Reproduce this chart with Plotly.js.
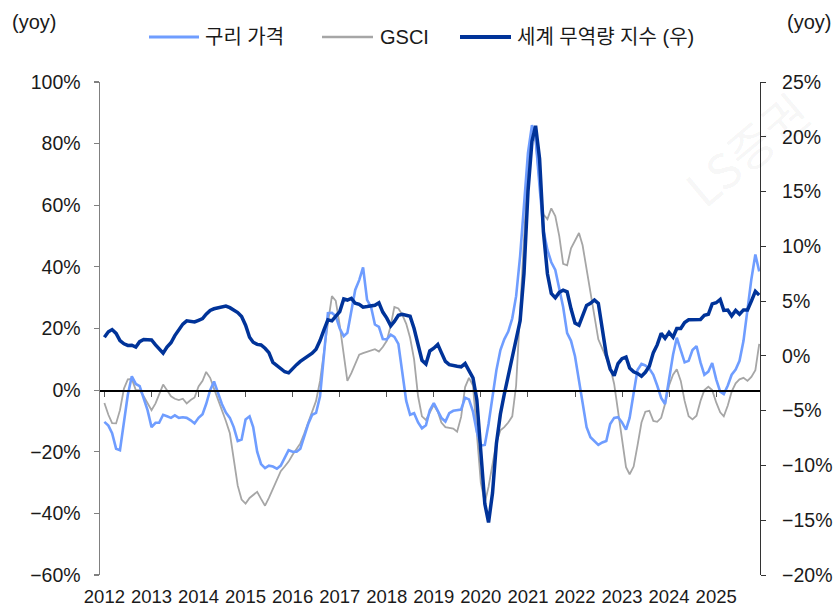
<!DOCTYPE html>
<html><head><meta charset="utf-8">
<script src="https://cdn.plot.ly/plotly-3.0.1.min.js"></script>
<style>html,body{margin:0;padding:0;background:#fff}#chart{width:835px;height:607px}</style>
</head><body><div id="chart"></div>
<script>
// monthly series, 2012-01 .. 2025-12
const startYear = 2012;
const seriesNames = ['구리 가격', 'GSCI', '세계 무역량 지수 (우)'];
const copper = [
 -10.3,-11.5,-14,-19,-19.5,-9.5,-1.5,4.5,2,1.3,-2.5,-6.5,
 -12,-10.6,-10.6,-8,-8.5,-9,-8.2,-9,-8.8,-9,-9.8,-10.8,
 -9,-7.8,-4.5,0,2.8,-1,-4.5,-7.3,-9,-12,-16.5,-16,
 -9.5,-8.5,-12,-20,-24,-25.3,-24.5,-24.8,-25.5,-24.5,-22,-19.5,
 -20,-20,-19,-14.5,-11,-8,-7.4,-2,13,25,25.1,24,
 20,17.5,18.6,25.5,32.5,35.7,39.8,29.3,27,21.3,20.5,16.6,
 16.5,18,17.3,15,5,-3.5,-8,-7.5,-10.5,-12.4,-11.4,-6.5,
 -4.2,-6.5,-9,-10.2,-7.5,-6.7,-6.4,-6.3,-2.5,-3,-7,-13.5,
 -18,-17.8,-11,-2,6.5,13,16.5,19,23.3,30.5,43.5,60,
 77,86,82,66,52,45.5,41.5,39,32.5,27,18.5,16,
 11,3,-4,-12,-15.3,-16.5,-17.8,-17,-16.5,-11,-9,-8.8,
 -10.5,-12.8,-9,-1,6.5,8.5,8,7,5,1.5,-2.5,-4.5,
 4,11.5,17,12.7,9,9.5,13,14.3,9,5,6,8.8,
 3.5,-0.5,-1.3,1.5,5,6.7,9.5,16,27,36,44,38.5
];
const gsci = [
 -4.2,-8,-10.7,-10.8,-6.5,0.5,3.5,3.6,0,0,-2,-4,
 -6.5,-4.3,-1.5,1.8,0,-2,-2.8,-3.2,-2.8,-4.3,-3.2,-2.4,
 1.2,3,5.9,4,0.5,-3,-6,-10,-14,-23,-31,-35.5,
 -36.8,-35,-34,-33,-35.3,-37.5,-35,-32,-29,-26.3,-24.8,-23.2,
 -21,-19.2,-17.3,-14,-10.5,-7,-3.5,3,13,21.7,30.5,29,
 21,11,3,5.5,8.5,11.5,12,12.5,13,13.3,12.5,14,
 16,21,27,26.5,24.5,21.5,17,10,-2,-8.5,-9.7,-7.5,
 -4.8,-7,-10.5,-12,-12.2,-12.5,-13.5,-8.7,1,4,1.5,-15,
 -30,-36.5,-31.4,-24,-17,-13,-12,-10.5,-8.5,1.5,25,49.5,
 73,83.5,80.5,67,57,55.5,59,56.5,50,41,40.5,46,
 48.5,51,47,39.5,31.5,23.5,16.5,13.5,10.5,7.5,2,-7,
 -15.8,-25,-27.3,-24.8,-18,-10.5,-7,-6.7,-10,-10.3,-9,-4.5,
 1.5,5,6.8,3,-3.5,-8.5,-9.5,-8.3,-3.5,0,1.1,0,
 -4,-7.2,-8.5,-5,-0.5,2.2,3.5,4,3,4.3,6.5,15
];
const trade = [
 1.7,2.2,2.4,2.05,1.4,1.1,0.95,0.97,0.8,1.3,1.5,1.5,
 1.45,1.0,0.6,0.25,0.8,1.2,1.85,2.4,2.9,3.2,3.15,3.1,
 3.25,3.4,3.8,4.15,4.3,4.4,4.52,4.55,4.4,4.2,3.95,3.6,
 2.8,1.7,1.25,1.05,1.0,0.7,0.3,-0.6,-0.9,-1.2,-1.45,-1.55,
 -1.14,-0.8,-0.5,-0.25,0,0.25,0.6,1.4,2.4,3.3,3.2,3.6,
 4.05,5.2,5.1,5.25,4.8,4.7,4.45,4.5,4.55,4.62,4.85,4.0,
 3.45,2.75,3.15,3.7,3.8,3.7,3.62,2.5,0.9,-0.4,-0.75,0.45,
 0.7,1.05,0.3,-0.5,-0.8,-0.9,-0.95,-1.0,-0.7,-1.35,-2.0,-4.0,
 -8.5,-13.5,-15.2,-12.5,-8,-5.3,-3.5,-1.8,-0.3,1.3,3.2,7.5,
 15,19.6,21,18,11.3,7.5,5.7,5.3,5.8,6.0,5.85,4.3,
 3.0,2.8,3.7,4.6,4.8,5.1,4.8,2.6,0.1,-1.2,-1.8,-0.7,
 -0.25,-0.1,-1.1,-1.45,-1.6,-1.85,-1.5,-0.95,0.3,1.0,2.05,1.6,
 2.15,1.7,2.5,2.5,3.05,3.3,3.33,3.33,3.33,3.7,3.8,4.75,
 4.85,5.15,4.15,4.18,3.65,4.15,3.8,4.2,4.2,5.0,5.9,5.55
];
const months = copper.map((_, i) => {
  const y = startYear + Math.floor(i / 12), m = i % 12 + 1;
  return y + '-' + String(m).padStart(2, '0') + '-01';
});

const colors = ['#6f9dff', '#a6a6a6', '#003399'];
const FONT = '"Liberation Sans", Arial, "Noto Sans CJK KR", sans-serif';
const KFONT = '"Liberation Sans", "Noto Sans CJK KR", sans-serif';

const W = 835, H = 607, M = {l: 100, r: 75, t: 82, b: 32};
const PW = W - M.l - M.r, PH = H - M.t - M.b;
const px = x => (x - M.l) / PW;
const py = y => (H - M.b - y) / PH;

const traces = [
  {type: 'scatter', mode: 'lines', x: months, y: gsci, name: seriesNames[1],
   line: {color: colors[1], width: 1.8}, xaxis: 'x', yaxis: 'y'},
  {type: 'scatter', mode: 'lines', x: months, y: copper, name: seriesNames[0],
   line: {color: colors[0], width: 2.6}, xaxis: 'x', yaxis: 'y'},
  {type: 'scatter', mode: 'lines', x: [], y: [], xaxis: 'x2', yaxis: 'y',
   hoverinfo: 'skip', showlegend: false},
  {type: 'scatter', mode: 'lines', x: months, y: trade, name: seriesNames[2],
   line: {color: colors[2], width: 3.5}, xaxis: 'x', yaxis: 'y2'}
];

const xr = ['2011-11-28', '2025-12-07'];
const legendY = py(37);
const legendItems = [
  {x0: 149, x1: 199, tx: 203, w: 3, name: seriesNames[0], c: colors[0]},
  {x0: 322, x1: 373, tx: 378, w: 2.5, name: seriesNames[1], c: colors[1]},
  {x0: 460, x1: 511, tx: 515, w: 4, name: seriesNames[2], c: colors[2]}
];

const layout = {
  width: W, height: H, margin: M,
  paper_bgcolor: '#fff', plot_bgcolor: '#fff',
  showlegend: false,
  font: {family: FONT, size: 20, color: '#1a1a1a'},
  xaxis: {type: 'date', range: xr, tickformat: '%Y', dtick: 'M12', tick0: '2012-01-01',
    ticks: '', showline: false, showgrid: false, zeroline: false, tickangle: 0,
    tickfont: {family: FONT, size: 18.5, color: '#1a1a1a'}, ticklabelstandoff: 8},
  xaxis2: {type: 'date', range: xr, overlaying: 'x', anchor: 'free', position: 0.375,
    dtick: 'M12', tick0: '2012-01-01', showticklabels: false,
    showline: true, linecolor: '#000', linewidth: 1.5,
    ticks: 'outside', ticklen: 5, tickcolor: '#555', tickwidth: 1,
    showgrid: false, zeroline: false},
  yaxis: {range: [-60, 100], dtick: 20, tick0: 0, ticksuffix: '%',
    showline: true, linecolor: '#808080', linewidth: 1.5,
    ticks: 'outside', ticklen: 5, tickcolor: '#808080', tickwidth: 1.2,
    showgrid: false, zeroline: false,
    tickfont: {family: FONT, size: 19.5, color: '#1a1a1a'}, ticklabelstandoff: 9},
  yaxis2: {range: [-20, 25], dtick: 5, tick0: 0, ticksuffix: '%', overlaying: 'y', side: 'right',
    showline: true, linecolor: '#333', linewidth: 1.2,
    ticks: 'outside', ticklen: 5, tickcolor: '#333', tickwidth: 1,
    showgrid: false, zeroline: false,
    tickfont: {family: FONT, size: 19.5, color: '#1a1a1a'}, ticklabelstandoff: 12},
  shapes: legendItems.map(it => ({type: 'line', xref: 'paper', yref: 'paper',
    x0: px(it.x0), x1: px(it.x1), y0: legendY, y1: legendY,
    line: {color: it.c, width: it.w}})),
  annotations: [
    {text: 'LS증권', xref: 'paper', yref: 'paper', x: px(746), y: py(148),
     xanchor: 'center', yanchor: 'middle',
     showarrow: false, textangle: -40, font: {family: '"Noto Sans CJK KR", sans-serif', size: 48, color: 'rgba(0,0,0,0.055)'}},
    {text: '(yoy)', xref: 'paper', yref: 'paper', x: px(10), y: py(22), xanchor: 'left', yanchor: 'middle',
     showarrow: false, font: {family: FONT, size: 20, color: '#1a1a1a'}},
    {text: '(yoy)', xref: 'paper', yref: 'paper', x: px(833), y: py(22), xanchor: 'right', yanchor: 'middle',
     showarrow: false, font: {family: FONT, size: 20, color: '#1a1a1a'}}
  ].concat(legendItems.map(it => ({text: it.name, xref: 'paper', yref: 'paper',
     x: px(it.tx), y: legendY, xanchor: 'left', yanchor: 'middle', showarrow: false,
     font: {family: KFONT, size: 20, color: '#1a1a1a'}})))
};

Plotly.newPlot('chart', traces, layout, {staticPlot: true, displayModeBar: false});
</script>
</body></html>
